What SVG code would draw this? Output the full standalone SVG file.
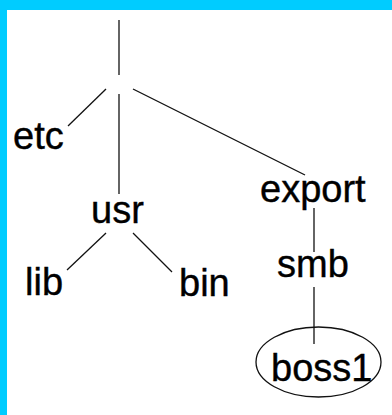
<svg xmlns="http://www.w3.org/2000/svg" width="392" height="415" viewBox="0 0 392 415">
<style>
text{font-family:"Liberation Sans",Arial,sans-serif;font-size:38px;fill:#000;stroke:#000;stroke-width:0.4}
.c line{stroke:#111;stroke-width:1.3}
.n ellipse{fill:none;stroke:#111;stroke-width:1.3}
</style>
<rect x="0" y="0" width="392" height="415" fill="#00CCFF"/>
<rect x="7" y="10" width="385" height="405" fill="#fff"/>
<g id="connectors" class="c">
<line x1="119" y1="20" x2="119" y2="75"/>
<line x1="106" y1="89" x2="68" y2="126"/>
<line x1="119" y1="94" x2="119" y2="194"/>
<line x1="133" y1="89" x2="305" y2="175"/>
<line x1="106" y1="233" x2="67" y2="270"/>
<line x1="133" y1="233" x2="172" y2="272"/>
<line x1="314" y1="208" x2="314" y2="252"/>
<line x1="314" y1="287" x2="314" y2="344"/>
</g>
<g id="etc" class="n"><text x="13" y="149">etc</text></g>
<g id="usr" class="n"><text x="91" y="223">usr</text></g>
<g id="export" class="n"><text x="260" y="202">export</text></g>
<g id="lib" class="n"><text x="25" y="295">lib</text></g>
<g id="bin" class="n"><text x="179" y="296">bin</text></g>
<g id="smb" class="n"><text x="277" y="277">smb</text></g>
<g id="boss1" class="n"><ellipse cx="318.5" cy="362" rx="62.5" ry="35"/><text x="271" y="381">boss1</text></g>
</svg>
